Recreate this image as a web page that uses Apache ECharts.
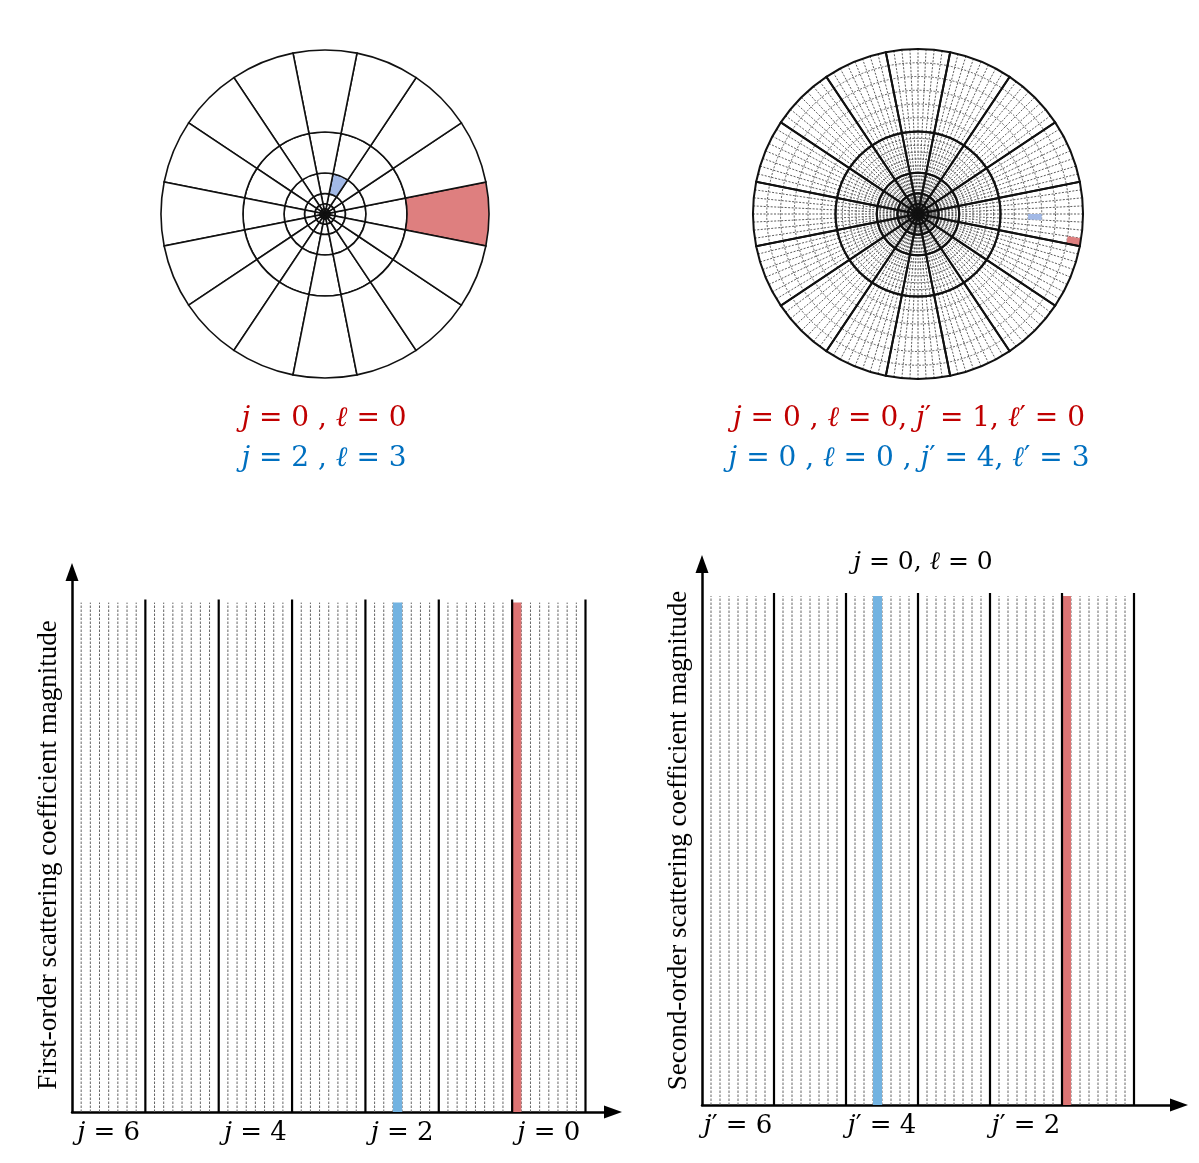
<!DOCTYPE html>
<html>
<head>
<meta charset="utf-8">
<style>
  html, body { margin: 0; padding: 0; background: #fff; }
  #chart { width: 1199px; height: 1163px; }
</style>
<script src="https://cdn.jsdelivr.net/npm/echarts@6.0.0/dist/echarts.min.js"></script>
</head>
<body>
<div id="chart"></div>
<script>
// scales j and orientations l of the wavelet grid
const scales = [0, 1, 2, 3, 4, 5, 6];
const orientations = [0, 1, 2, 3, 4, 5, 6, 7];
// dyadic ring radii (fraction of disc radius), outermost first
const ringRadii = [1, 0.5, 0.25, 0.125, 0.0625, 0.03125, 0.015625, 0.0078125];
const sectorCount = 16;
const subRadialBins = 6;   // j' bins inside a first-order cell
const subAngularBins = 8;  // l' bins inside a first-order cell

// highlighted first-order coefficients
const firstHiJ = [0, 2];
const firstHiL = [0, 3];
const firstHiValue = [1, 1];

// highlighted second-order coefficients, inside j = 0, l = 0
const parentJ = 0;
const parentL = 0;
const secondHiJp = [1, 4];
const secondHiLp = [0, 3];
const secondHiValue = [1, 1];
const secondScales = [1, 2, 3, 4, 5, 6];

// tick labels under the bar charts
const firstTickScales = [6, 4, 2, 0];
const secondTickScales = [6, 4, 2];

const RED = '#c00000';
const BLUE = '#0070c0';
const discHiColors = ['#de7f7f', '#a2b9e6'];
const barHiColors = ['#dc7474', '#73b3e1'];
const MATH_FONT = '"DejaVu Serif"';

const chart = echarts.init(document.getElementById('chart'));

// stacked polar bars give the first-order grid (rings and spokes)
function discSeries(polarIndex, fill, borderWidth, withHighlight) {
  const bands = ['core', 6, 5, 4, 3, 2, 1, 0];
  return bands.map((b) => {
    const w = b === 'core' ? ringRadii[7] : ringRadii[b] - ringRadii[b + 1];
    const data = [];
    for (let s = 0; s < sectorCount; s++) {
      const item = { value: w };
      if (withHighlight) {
        firstHiJ.forEach((hj, k) => {
          if (hj === b && firstHiL[k] === s) {
            item.itemStyle = { color: discHiColors[k] };
          }
        });
      }
      data.push(item);
    }
    return {
      type: 'bar',
      coordinateSystem: 'polar',
      polarIndex,
      stack: 'disc' + polarIndex,
      barCategoryGap: '0%',
      silent: true,
      z: 5,
      itemStyle: { color: fill, borderColor: '#111', borderWidth },
      data
    };
  });
}

// dashed sub-rings for the second-order grid
const subRings = [];
scales.forEach((j) => {
  const outer = ringRadii[j];
  const inner = ringRadii[j + 1];
  for (let k = 1; k < subRadialBins; k++) {
    subRings.push(inner + ((outer - inner) * k) / subRadialBins);
  }
});

// bin separators of the bar charts
function separators(groups) {
  const dashed = [];
  const solid = [];
  const n = orientations.length;
  for (let k = 1; k <= groups * n; k++) {
    (k % n === 0 ? solid : dashed).push([k, 0]);
  }
  return { dashed, solid };
}
const sep1 = separators(scales.length);
const sep2 = separators(secondScales.length);

const lineRender = (top, style) => (params, api) => {
  const p0 = api.coord([api.value(0), 0]);
  const p1 = api.coord([api.value(0), top]);
  return {
    type: 'line',
    shape: { x1: p0[0], y1: p0[1], x2: p1[0], y2: p1[1] },
    style
  };
};
const dashStyle = { stroke: '#666', lineWidth: 1, lineDash: [2.5, 1.5] };
const solidStyle = { stroke: '#000', lineWidth: 2.2 };

const barRender = (params, api) => {
  const b = api.value(0);
  const p0 = api.coord([b, 0]);
  const p1 = api.coord([b + 1, api.value(1)]);
  return {
    type: 'rect',
    shape: { x: p0[0], y: p1[1], width: p1[0] - p0[0], height: p0[1] - p1[1] },
    style: { fill: barHiColors[params.dataIndex] }
  };
};

const firstBins = firstHiJ.map(
  (j, k) => [(6 - j) * orientations.length + firstHiL[k], firstHiValue[k]]
);
const secondBins = secondHiJp.map(
  (jp, k) => [(6 - jp) * orientations.length + secondHiLp[k], secondHiValue[k]]
);

const labelRich = {
  v: { fontStyle: 'italic', fontFamily: MATH_FONT, fontSize: 26, color: '#000' }
};
const hiddenAxis = {
  axisLine: { show: false },
  axisTick: { show: false },
  axisLabel: { show: false },
  splitLine: { show: false }
};
const arrowLine = {
  show: true,
  onZero: false,
  symbol: ['none', 'triangle'],
  symbolSize: [13, 18],
  lineStyle: { color: '#000', width: 2.5 }
};
const yName = {
  fontFamily: '"Liberation Serif"',
  fontSize: 27,
  color: '#000'
};

const mathText = (x, y, text, color, size) => ({
  type: 'text',
  x,
  y,
  silent: true,
  style: {
    text,
    fill: color,
    fontFamily: MATH_FONT,
    fontSize: size,
    align: 'center',
    verticalAlign: 'middle',
    rich: {
      v: { fontStyle: 'italic', fontFamily: MATH_FONT, fontSize: size, fill: color }
    }
  }
});

chart.setOption({
  animation: false,
  backgroundColor: '#fff',
  polar: [
    { center: [325, 214], radius: 164 },
    { center: [918, 214], radius: 165 },
    { center: [918, 214], radius: 165 }
  ],
  angleAxis: [
    { polarIndex: 0, type: 'category', data: Array.from({ length: sectorCount }, (_, i) => i),
      startAngle: 348.75, clockwise: false, ...hiddenAxis },
    { polarIndex: 1, type: 'category', data: Array.from({ length: sectorCount }, (_, i) => i),
      startAngle: 348.75, clockwise: false, ...hiddenAxis },
    { polarIndex: 2, type: 'value', min: 0, max: sectorCount * subAngularBins, interval: 1,
      startAngle: 348.75, clockwise: false,
      axisLine: { show: false }, axisTick: { show: false }, axisLabel: { show: false },
      splitLine: { show: true, lineStyle: { color: '#4a4a4a', width: 0.9, type: [2, 1.5] } } }
  ],
  radiusAxis: [
    { polarIndex: 0, type: 'value', min: 0, max: 1, ...hiddenAxis },
    { polarIndex: 1, type: 'value', min: 0, max: 1, ...hiddenAxis },
    { polarIndex: 2, type: 'value', min: 0, max: 1, ...hiddenAxis }
  ],
  grid: [
    { left: 72, top: 572, width: 541, height: 540 },
    { left: 702, top: 564, width: 477, height: 541 }
  ],
  xAxis: [
    {
      gridIndex: 0, type: 'value', min: 0, max: 59,
      axisLine: arrowLine, axisTick: { show: false }, splitLine: { show: false },
      axisLabel: {
        customValues: firstTickScales.map((j) => (6 - j) * orientations.length + orientations.length / 2),
        formatter: (v) => '{v|j} = ' + (6 - (v - orientations.length / 2) / orientations.length),
        rich: labelRich, fontFamily: MATH_FONT, fontSize: 26, color: '#000', margin: 8
      }
    },
    {
      gridIndex: 1, type: 'value', min: 0, max: 53,
      axisLine: arrowLine, axisTick: { show: false }, splitLine: { show: false },
      axisLabel: {
        customValues: secondTickScales.map((j) => (6 - j) * orientations.length + orientations.length / 2),
        formatter: (v) => '{v|j}′ = ' + (6 - (v - orientations.length / 2) / orientations.length),
        rich: labelRich, fontFamily: MATH_FONT, fontSize: 26, color: '#000', margin: 8
      }
    }
  ],
  yAxis: [
    {
      gridIndex: 0, type: 'value', min: 0, max: 1.06,
      axisLine: arrowLine, axisTick: { show: false }, axisLabel: { show: false }, splitLine: { show: false },
      name: 'First-order scattering coefficient magnitude',
      nameLocation: 'middle', nameGap: 10, nameRotate: 90,
      nameTextStyle: { ...yName, padding: [0, 26, 0, 0] }
    },
    {
      gridIndex: 1, type: 'value', min: 0, max: 1.063,
      axisLine: arrowLine, axisTick: { show: false }, axisLabel: { show: false }, splitLine: { show: false },
      name: 'Second-order scattering coefficient magnitude',
      nameLocation: 'middle', nameGap: 10, nameRotate: 90,
      nameTextStyle: { ...yName, padding: [0, 12, 0, 0] }
    }
  ],
  graphic: [
    mathText(324, 419, '{v|j} = 0 , {v|ℓ} = 0', RED, 28),
    mathText(324, 459, '{v|j} = 2 , {v|ℓ} = 3', BLUE, 28),
    mathText(909, 419, '{v|j} = 0 , {v|ℓ} = 0, {v|j}′ = 1, {v|ℓ}′ = 0', RED, 28),
    mathText(909, 459, '{v|j} = 0 , {v|ℓ} = 0 , {v|j}′ = 4, {v|ℓ}′ = 3', BLUE, 28),
    mathText(923, 562, '{v|j} = 0, {v|ℓ} = 0', '#000', 25)
  ],
  series: [
    ...discSeries(0, '#fff', 1.6, true),
    // second-order disc: dashed sub-rings, highlighted sub-cells, solid first-order grid
    {
      type: 'custom',
      coordinateSystem: 'polar',
      polarIndex: 2,
      silent: true,
      z: 1,
      data: subRings.map((r) => [r, 0]),
      renderItem: (params, api) => {
        const cs = params.coordSys;
        const p = api.coord([api.value(0), 0]);
        return {
          type: 'circle',
          shape: { cx: cs.cx, cy: cs.cy, r: Math.hypot(p[0] - cs.cx, p[1] - cs.cy) },
          style: { fill: 'none', stroke: '#4a4a4a', lineWidth: 0.9, lineDash: [2, 1.5] }
        };
      }
    },
    {
      type: 'custom',
      coordinateSystem: 'polar',
      polarIndex: 2,
      silent: true,
      z: 3,
      data: secondHiJp.map((jp, k) => [jp, secondHiLp[k]]),
      renderItem: (params, api) => {
        const jp = api.value(0);
        const lp = api.value(1);
        const outer = ringRadii[parentJ];
        const inner = ringRadii[parentJ + 1];
        const step = (outer - inner) / subRadialBins;
        const rOut = outer - (jp - 1) * step;
        const rIn = outer - jp * step;
        const a0 = parentL * subAngularBins + lp;
        const pts = [];
        const n = 6;
        for (let i = 0; i <= n; i++) pts.push(api.coord([rOut, a0 + i / n]).slice(0, 2));
        for (let i = n; i >= 0; i--) pts.push(api.coord([rIn, a0 + i / n]).slice(0, 2));
        return {
          type: 'polygon',
          shape: { points: pts },
          style: { fill: discHiColors[params.dataIndex] }
        };
      }
    },
    ...discSeries(1, 'rgba(0,0,0,0)', 2, false),
    // first-order bars
    {
      type: 'custom', xAxisIndex: 0, yAxisIndex: 0, silent: true, z: 1,
      data: sep1.dashed, renderItem: lineRender(1, dashStyle)
    },
    {
      type: 'custom', xAxisIndex: 0, yAxisIndex: 0, silent: true, z: 2,
      data: firstBins, renderItem: barRender
    },
    {
      type: 'custom', xAxisIndex: 0, yAxisIndex: 0, silent: true, z: 3,
      data: sep1.solid, renderItem: lineRender(1.006, solidStyle)
    },
    // second-order bars
    {
      type: 'custom', xAxisIndex: 1, yAxisIndex: 1, silent: true, z: 1,
      data: sep2.dashed, renderItem: lineRender(1, dashStyle)
    },
    {
      type: 'custom', xAxisIndex: 1, yAxisIndex: 1, silent: true, z: 2,
      data: secondBins, renderItem: barRender
    },
    {
      type: 'custom', xAxisIndex: 1, yAxisIndex: 1, silent: true, z: 3,
      data: sep2.solid, renderItem: lineRender(1.006, solidStyle)
    }
  ]
});
</script>
</body>
</html>
